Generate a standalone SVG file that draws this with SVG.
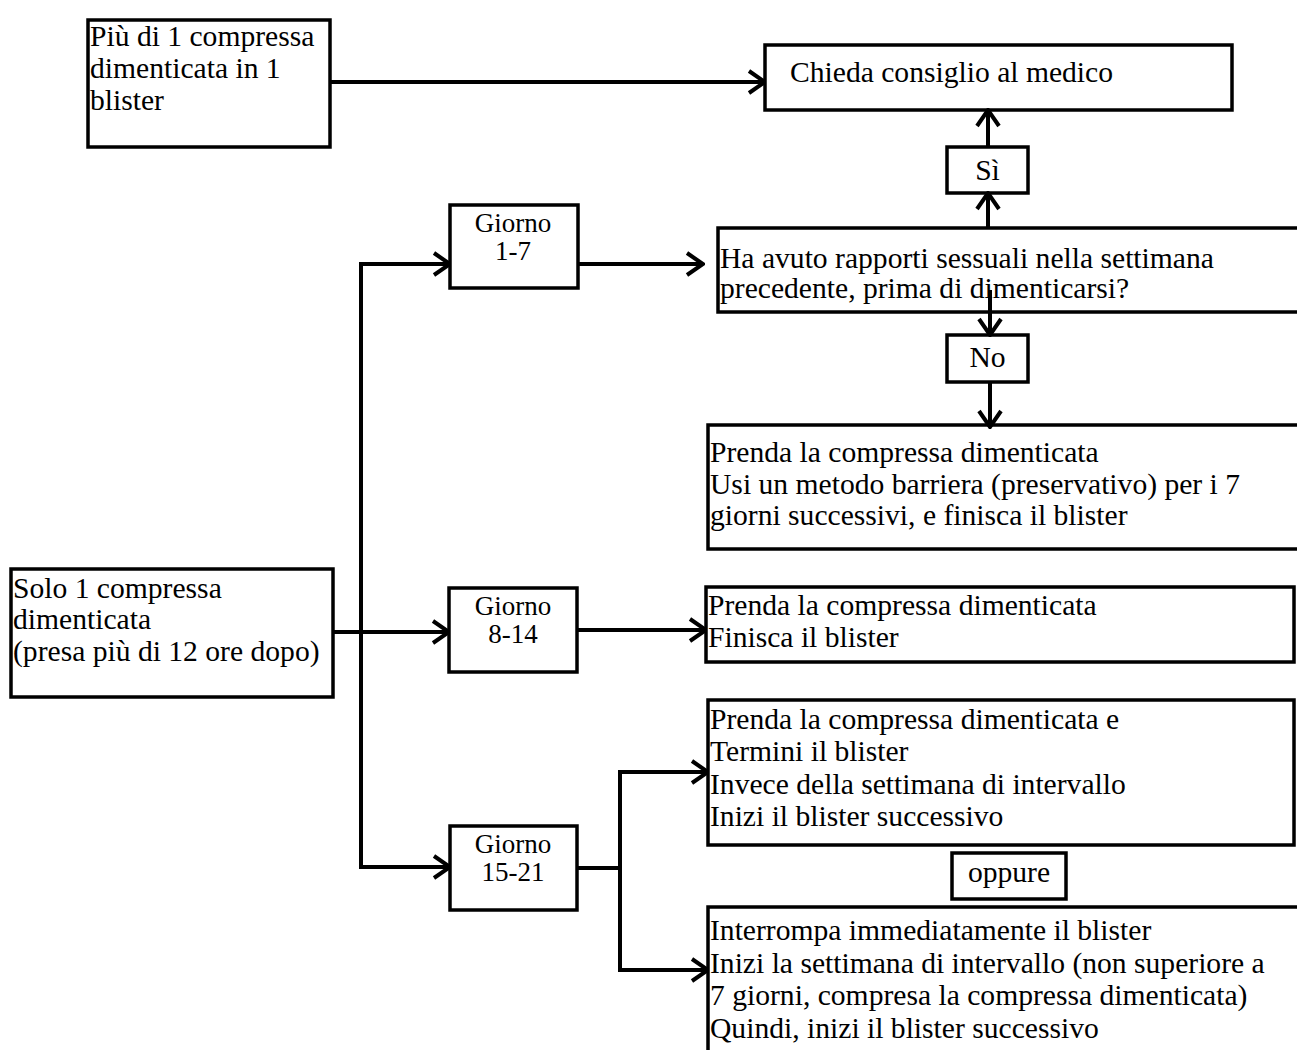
<svg xmlns="http://www.w3.org/2000/svg" width="1297" height="1050" viewBox="0 0 1297 1050">
<defs>
<marker id="chev" viewBox="0 0 20 26" refX="18" refY="13" markerWidth="20" markerHeight="26" markerUnits="userSpaceOnUse" orient="auto">
<path d="M2,2 L18,13 L2,24" fill="none" stroke="#000" stroke-width="4"/>
</marker>
</defs>
<style>
.box{fill:#fff;stroke:#000;stroke-width:3.5}
.t{font-family:"Liberation Serif","Times New Roman",serif;font-size:29.6px;fill:#000}
.g{font-family:"Liberation Serif","Times New Roman",serif;font-size:27px;fill:#000;text-anchor:middle}
.c{text-anchor:middle}
.ln{fill:none;stroke:#000;stroke-width:4}
.ar{fill:none;stroke:#000;stroke-width:4;marker-end:url(#chev)}
</style>
<rect width="1297" height="1050" fill="#fff"/>
<g id="connectors">
<path class="ar" d="M330,82 H765"/>
<path class="ln" d="M361,264 V867"/>
<path class="ar" d="M359,264 H450"/>
<path class="ar" d="M333,632 H449"/>
<path class="ar" d="M359,867 H450"/>
<path class="ar" d="M578,264 H703"/>
<path class="ar" d="M577,630 H706"/>
<path class="ln" d="M577,868 H620 M620,770 V972"/>
<path class="ar" d="M618,772 H708"/>
<path class="ar" d="M618,970 H708"/>
</g>
<g id="nA"><rect class="box" x="88" y="20" width="242" height="127"/>
<text class="t" x="90" y="46">Più di 1 compressa</text>
<text class="t" x="90" y="78">dimenticata in 1</text>
<text class="t" x="90" y="110">blister</text></g>
<g id="nB"><rect class="box" x="765" y="45" width="467" height="65"/>
<text class="t" x="790" y="82">Chieda consiglio al medico</text></g>
<g id="nSi"><rect class="box" x="947" y="147" width="81" height="46"/>
<text class="t c" x="987.5" y="180">Sì</text></g>
<g id="nQ"><rect class="box" x="718" y="228" width="600" height="84"/>
<text class="t" x="720" y="268">Ha avuto rapporti sessuali nella settimana</text>
<text class="t" x="720" y="298">precedente, prima di dimenticarsi?</text></g>
<g id="nNo"><rect class="box" x="947" y="335" width="81" height="47"/>
<text class="t c" x="987.5" y="367">No</text></g>
<g id="nC"><rect class="box" x="708" y="425" width="610" height="124"/>
<text class="t" x="710" y="462">Prenda la compressa dimenticata</text>
<text class="t" x="710" y="494">Usi un metodo barriera (preservativo) per i 7</text>
<text class="t" x="710" y="525">giorni successivi, e finisca il blister</text></g>
<g id="nD"><rect class="box" x="706" y="587" width="588" height="75"/>
<text class="t" x="708" y="615">Prenda la compressa dimenticata</text>
<text class="t" x="708" y="647">Finisca il blister</text></g>
<g id="nE"><rect class="box" x="708" y="700" width="586" height="145"/>
<text class="t" x="710" y="729">Prenda la compressa dimenticata e</text>
<text class="t" x="710" y="761">Termini il blister</text>
<text class="t" x="710" y="794">Invece della settimana di intervallo</text>
<text class="t" x="710" y="826">Inizi il blister successivo</text></g>
<g id="nOppure"><rect class="box" x="952" y="853" width="114" height="46"/>
<text class="t c" x="1009" y="882">oppure</text></g>
<g id="nF"><rect class="box" x="708" y="907" width="610" height="160"/>
<text class="t" x="710" y="940">Interrompa immediatamente il blister</text>
<text class="t" x="710" y="973">Inizi la settimana di intervallo (non superiore a</text>
<text class="t" x="710" y="1005">7 giorni, compresa la compressa dimenticata)</text>
<text class="t" x="710" y="1038">Quindi, inizi il blister successivo</text></g>
<g id="nG"><rect class="box" x="11" y="569" width="322" height="128"/>
<text class="t" x="13" y="598">Solo 1 compressa</text>
<text class="t" x="13" y="629">dimenticata</text>
<text class="t" x="13" y="661">(presa più di 12 ore dopo)</text></g>
<g id="nG1"><rect class="box" x="450" y="205" width="128" height="83"/>
<text class="g" x="513" y="232">Giorno</text>
<text class="g" x="513" y="260">1-7</text></g>
<g id="nG2"><rect class="box" x="449" y="588" width="128" height="84"/>
<text class="g" x="513" y="615">Giorno</text>
<text class="g" x="513" y="643">8-14</text></g>
<g id="nG3"><rect class="box" x="450" y="826" width="127" height="84"/>
<text class="g" x="513" y="853">Giorno</text>
<text class="g" x="513" y="881">15-21</text></g>
<g id="vconnectors">
<path class="ar" d="M988,228 V193"/>
<path class="ar" d="M988,147 V110"/>
<path class="ar" d="M990,290 V335"/>
<path class="ar" d="M990,382 V427"/>
</g>
</svg>
